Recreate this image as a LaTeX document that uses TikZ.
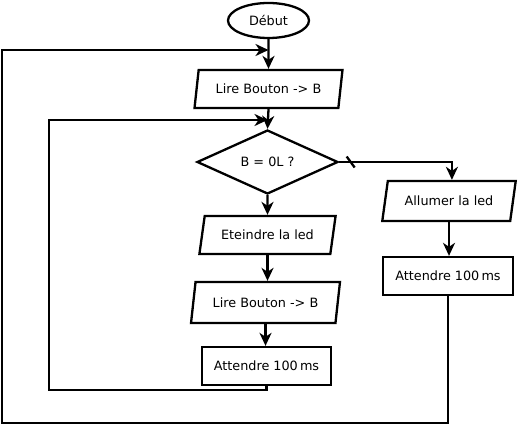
\documentclass[tikz,border=0pt]{standalone}
\usepackage{fontspec}
\setmainfont{DejaVu Sans}
\usetikzlibrary{shapes.geometric,arrows.meta}
\begin{document}
\begin{tikzpicture}[x=1pt,y=-1pt,
  every node/.style={font=\fontsize{12.8}{14}\selectfont, line width=2.3pt, draw, inner sep=0pt},
  startbox/.style={ellipse, minimum width=81pt, minimum height=35pt},
  iobox/.style={trapezium, trapezium stretches=true, minimum height=38pt},
  waitbox/.style={rectangle, minimum width=130pt, minimum height=38pt},
  testbox/.style={diamond, minimum width=141pt, minimum height=64pt},
  link/.style={line width=2.3pt},
  arr/.style={line width=2.3pt, -{Stealth[length=13pt,width=12pt,inset=4pt]}}]
\useasboundingbox (0,0) rectangle (518,425);
\node[startbox] (debut) at (268.5,20.5) {Début};
\node[iobox, minimum width=148pt, trapezium left angle=72.5, trapezium right angle=107.5] (lire1) at (268.5,89) {Lire Bouton -> B};
\node[testbox] (test) at (267.5,162) {B = 0L ?};
\node[iobox, minimum width=137pt, trapezium left angle=68.5, trapezium right angle=111.5] (eteindre) at (267.5,235) {Eteindre la led};
\node[iobox, minimum width=149pt, minimum height=41pt, trapezium left angle=71, trapezium right angle=109] (lire2) at (265.5,302.5) {Lire Bouton -> B};
\node[waitbox, minimum width=129pt] (att2) at (266.5,366) {Attendre 100\,ms};
\node[iobox, minimum width=134pt, minimum height=40pt, trapezium left angle=68, trapezium right angle=112] (allumer) at (449,201) {Allumer la led};
\node[waitbox] (att1) at (448,276) {Attendre 100\,ms};
\coordinate (j1) at (268.5,50);
\coordinate (j2) at (267.5,120);
\draw[arr] (debut.south) -- (lire1.north);
\draw[arr] (lire1.south) -- (test.north);
\draw[arr] (test.south) -- (eteindre.north);
\draw[arr] (eteindre.south) -- (eteindre.south |- lire2.north);
\draw[arr] (lire2.south) -- (lire2.south |- att2.north);
\draw[arr] (test.east) -| (allumer.top side);
\draw[arr] (allumer.south) -- (allumer.south |- att1.north);
\draw[arr] (att1.south) |- (2,423) |- (j1);
\draw[arr] (att2.south) |- (49,390) |- (j2);
\draw[link] ([shift={(7.5,-5.5)}]test.east) -- ([shift={(15.5,5.5)}]test.east);
\end{tikzpicture}
\end{document}
